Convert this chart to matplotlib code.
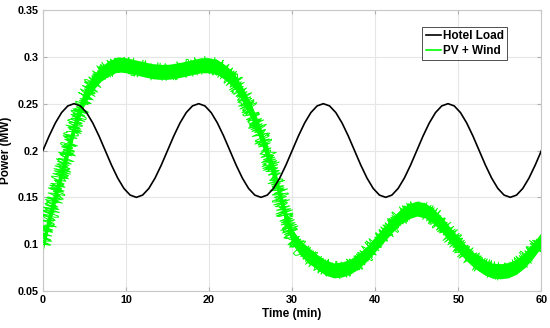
import matplotlib
matplotlib.use("Agg")
import matplotlib.pyplot as plt
import numpy as np

# ---- data ----
load_t = [i * 0.75 for i in range(81)]
load_mw = [0.2000, 0.2155, 0.2294, 0.2405, 0.2476, 0.2500, 0.2476, 0.2405, 0.2294, 0.2155,
           0.2000, 0.1845, 0.1706, 0.1595, 0.1524, 0.1500, 0.1524, 0.1595, 0.1706, 0.1845,
           0.2000, 0.2155, 0.2294, 0.2405, 0.2476, 0.2500, 0.2476, 0.2405, 0.2294, 0.2155,
           0.2000, 0.1845, 0.1706, 0.1595, 0.1524, 0.1500, 0.1524, 0.1595, 0.1706, 0.1845,
           0.2000, 0.2155, 0.2294, 0.2405, 0.2476, 0.2500, 0.2476, 0.2405, 0.2294, 0.2155,
           0.2000, 0.1845, 0.1706, 0.1595, 0.1524, 0.1500, 0.1524, 0.1595, 0.1706, 0.1845,
           0.2000, 0.2155, 0.2294, 0.2405, 0.2476, 0.2500, 0.2476, 0.2405, 0.2294, 0.2155,
           0.2000, 0.1845, 0.1706, 0.1595, 0.1524, 0.1500, 0.1524, 0.1595, 0.1706, 0.1845,
           0.2000]

pv_t = list(range(61))
pv_mw = [0.100, 0.136, 0.168, 0.200, 0.232, 0.257, 0.272, 0.282, 0.288, 0.292,
         0.291, 0.289, 0.287, 0.285, 0.284, 0.284, 0.285, 0.287, 0.289, 0.291,
         0.291, 0.289, 0.283, 0.275, 0.260, 0.243, 0.222, 0.197, 0.170, 0.136,
         0.108, 0.096, 0.088, 0.081, 0.075, 0.072, 0.073, 0.076, 0.082, 0.090,
         0.100, 0.110, 0.120, 0.129, 0.135, 0.138, 0.136, 0.130, 0.121, 0.110,
         0.100, 0.090, 0.082, 0.076, 0.072, 0.071, 0.072, 0.076, 0.083, 0.093,
         0.105]

x_ticks = [0, 10, 20, 30, 40, 50, 60]
y_ticks = [0.05, 0.1, 0.15, 0.2, 0.25, 0.3, 0.35]
y_tick_labels = ["0.05", "0.1", "0.15", "0.2", "0.25", "0.3", "0.35"]

# ---- style ----
plt.rcParams['font.family'] = ['Liberation Sans', 'DejaVu Sans']
plt.rcParams['font.weight'] = 'bold'

fig = plt.figure(figsize=(5.5, 3.28), dpi=100)
ax = fig.add_axes([0.078, 0.1128, 0.9065, 0.8567])

green = '#00ff00'
pv = np.array(pv_mw)
ax.fill_between(pv_t, pv - 0.008, pv + 0.008, color=green, linewidth=0, zorder=2)
ln, = ax.plot(pv_t, pv_mw, color=green, linewidth=0.8, zorder=3)
ln.set_sketch_params(scale=7, length=0.8, randomness=6)
ln2, = ax.plot(pv_t, pv_mw, color=green, linewidth=0.7, zorder=3)
ln2.set_sketch_params(scale=9, length=0.6, randomness=10)
hl, = ax.plot(load_t, load_mw, color='black', linewidth=1.2, zorder=4)

ax.set_xlim(0, 60)
ax.set_ylim(0.05, 0.35)
ax.set_xticks(x_ticks)
ax.set_yticks(y_ticks)
ax.set_yticklabels(y_tick_labels)
ax.grid(True, color='#e6e6e6', linewidth=0.8)
ax.set_axisbelow(True)
for s in ax.spines.values():
    s.set_color('#c8c8c8')
    s.set_linewidth(0.8)
ax.tick_params(direction='in', length=3, color='#b0b0b0', labelsize=7.8,
               top=True, right=True, pad=3)
for lab in ax.get_xticklabels() + ax.get_yticklabels():
    lab.set_fontweight('bold')

ax.set_xlabel('Time (min)', fontsize=8.5, fontweight='bold', labelpad=2)
ax.set_ylabel('Power (MW)', fontsize=8.5, fontweight='bold', labelpad=4)

from matplotlib.lines import Line2D
handles = [Line2D([], [], color='black', linewidth=1.2),
           Line2D([], [], color=green, linewidth=1.2)]
leg = ax.legend(handles, ['Hotel Load', 'PV + Wind'], loc='upper right',
                bbox_to_anchor=(0.931, 0.94), fontsize=8.5, frameon=True,
                fancybox=False, edgecolor='black', handlelength=1.3,
                handletextpad=0.1, borderpad=0.3, labelspacing=0.2,
                borderaxespad=0)
leg.get_frame().set_linewidth(0.6)
for t in leg.get_texts():
    t.set_fontweight('bold')

fig.savefig('out.png', dpi=100)
